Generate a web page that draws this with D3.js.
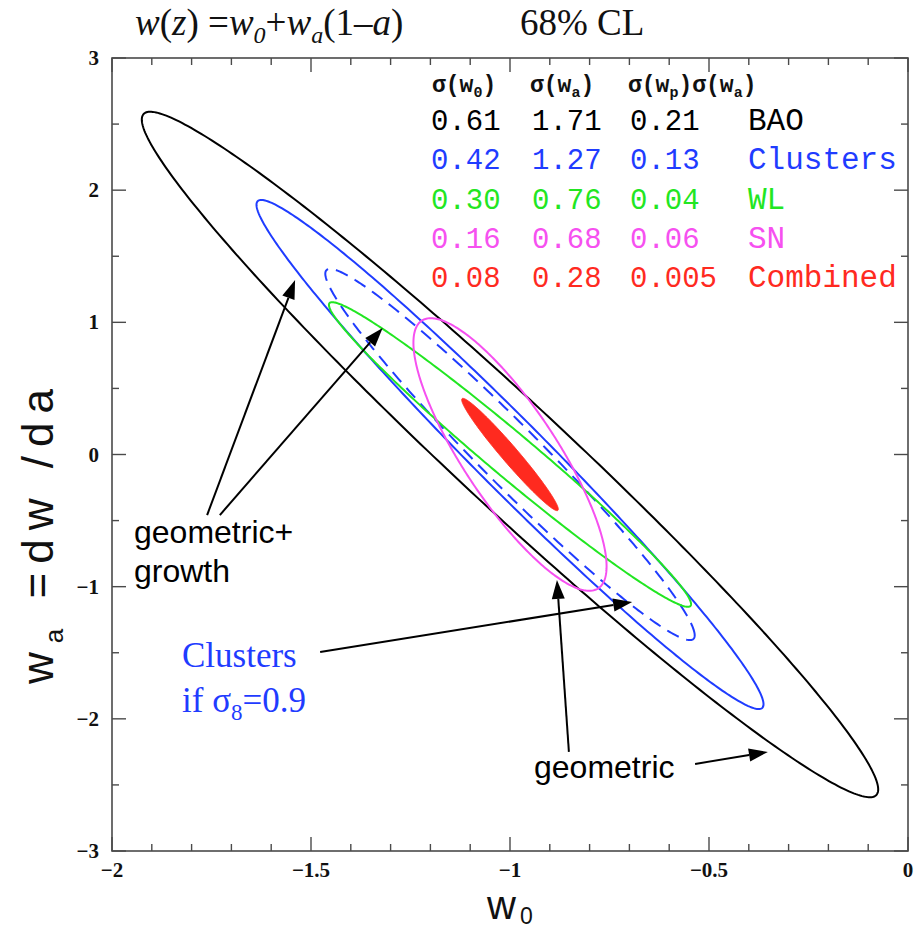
<!DOCTYPE html>
<html><head><meta charset="utf-8">
<script src="https://cdn.jsdelivr.net/npm/d3@7"></script>
<style>body{margin:0;background:#fff} svg{display:block}</style>
</head><body>
<svg id="c" width="914" height="931"></svg>
<script>
// ---- data ----
const probes = ["BAO", "Clusters", "WL", "SN", "Combined"];
const sigmaW0 = [0.61, 0.42, 0.30, 0.16, 0.08];
const sigmaWa = [1.71, 1.27, 0.76, 0.68, 0.28];
const sigmaWpWa = [0.21, 0.13, 0.04, 0.06, 0.005];
const sigmaW0Text = ["0.61", "0.42", "0.30", "0.16", "0.08"];
const sigmaWaText = ["1.71", "1.27", "0.76", "0.68", "0.28"];
const sigmaWpWaText = ["0.21", "0.13", "0.04", "0.06", "0.005"];
const rhoW0Wa = [-0.977, -0.981, -0.982, -0.82, -0.975];
const probeColors = ["#000000", "#1f3cff", "#22e622", "#f650f0", "#ff2a1f"];
const fiducial = [-1, 0];
// dashed contour: clusters if sigma8 = 0.9
const clusters09 = { sigmaW0: 0.306, sigmaWa: 0.926, rho: -0.974 };
const deltaChi2 = 2.30; // 68% CL, 2 parameters

const xDomain = [-2, 0];
const yDomain = [-3, 3];
const xMajor = [-2, -1.5, -1, -0.5, 0];
const xMajorLabels = ["\u22122", "\u22121.5", "\u22121", "\u22120.5", "0"];
const xMinor = [-1.9, -1.8, -1.7, -1.6, -1.4, -1.3, -1.2, -1.1, -0.9, -0.8, -0.7, -0.6, -0.4, -0.3, -0.2, -0.1];
const yMajor = [-3, -2, -1, 0, 1, 2, 3];
const yMajorLabels = ["\u22123", "\u22122", "\u22121", "0", "1", "2", "3"];
const yMinor = [-2.5, -1.5, -0.5, 0.5, 1.5, 2.5];

// annotation arrows [tail w0, tail wa, tip w0, tip wa]
const arrows = [
  [-1.761, -0.458, -1.540, 1.320],
  [-1.729, -0.458, -1.320, 0.957],
  [-1.477, -1.494, -0.693, -1.116],
  [-0.852, -2.250, -0.882, -0.949],
  [-0.535, -2.341, -0.352, -2.250]
];

// ---- layout ----
const svg = d3.select("#c");
const L = 112, R = 908, T = 58, B = 851;
const x = d3.scaleLinear().domain(xDomain).range([L, R]);
const y = d3.scaleLinear().domain(yDomain).range([B, T]);
const frameCol = "#4a4a4a";

svg.append("defs").append("clipPath").attr("id", "clip")
  .append("rect").attr("x", L).attr("y", T).attr("width", R - L).attr("height", B - T);

// ellipses
function ellipse(s0, sa, rho) {
  const k = Math.sqrt(deltaChi2), q = Math.sqrt(1 - rho * rho);
  return d3.range(0, 361, 1).map(t => {
    const a = t * Math.PI / 180;
    return [fiducial[0] + k * s0 * Math.cos(a),
            fiducial[1] + k * sa * (rho * Math.cos(a) + q * Math.sin(a))];
  });
}
const line = d3.line().x(d => x(d[0])).y(d => y(d[1])).curve(d3.curveLinearClosed);
const g = svg.append("g").attr("clip-path", "url(#clip)");

[0, 1, 2, 3].forEach(i => {
  if (i === 2) {
    g.append("path").attr("d", line(ellipse(clusters09.sigmaW0, clusters09.sigmaWa, clusters09.rho)))
      .attr("fill", "none").attr("stroke", probeColors[1]).attr("stroke-width", 2)
      .attr("stroke-dasharray", "13,8");
  }
  g.append("path").attr("d", line(ellipse(sigmaW0[i], sigmaWa[i], rhoW0Wa[i])))
    .attr("fill", "none").attr("stroke", probeColors[i]).attr("stroke-width", 2);
});
g.append("path").attr("d", line(ellipse(sigmaW0[4], sigmaWa[4], rhoW0Wa[4])))
  .attr("fill", probeColors[4]).attr("stroke", probeColors[4]).attr("stroke-width", 1);

// frame and ticks
svg.append("rect").attr("x", L).attr("y", T).attr("width", R - L).attr("height", B - T)
  .attr("fill", "none").attr("stroke", frameCol).attr("stroke-width", 1.6);
const tk = svg.append("g").attr("stroke", frameCol).attr("stroke-width", 1.4);
[[xMajor, 14], [xMinor, 7]].forEach(([arr, len]) => {
  arr.forEach(v => {
    tk.append("line").attr("x1", x(v)).attr("x2", x(v)).attr("y1", B).attr("y2", B - len);
    tk.append("line").attr("x1", x(v)).attr("x2", x(v)).attr("y1", T).attr("y2", T + len);
  });
});
[[yMajor, 14], [yMinor, 7]].forEach(([arr, len]) => {
  arr.forEach(v => {
    tk.append("line").attr("y1", y(v)).attr("y2", y(v)).attr("x1", L).attr("x2", L + len);
    tk.append("line").attr("y1", y(v)).attr("y2", y(v)).attr("x1", R).attr("x2", R - len);
  });
});

const tickFont = "'Liberation Serif', 'DejaVu Serif', serif";
xMajor.forEach((v, i) => {
  svg.append("text").attr("x", x(v)).attr("y", 877).attr("text-anchor", "middle")
    .attr("font-family", tickFont).attr("font-weight", "bold").attr("font-size", 21)
    .attr("fill", "#111").text(xMajorLabels[i]);
});
yMajor.forEach((v, i) => {
  svg.append("text").attr("x", 99).attr("y", y(v) + 7).attr("text-anchor", "end")
    .attr("font-family", tickFont).attr("font-weight", "bold").attr("font-size", 21)
    .attr("fill", "#111").text(yMajorLabels[i]);
});

// axis labels
const xl = svg.append("text").attr("x", 487).attr("y", 919)
  .attr("font-family", "'Liberation Sans', Arial, sans-serif").attr("font-size", 40).attr("fill", "#111");
xl.append("tspan").text("w");
xl.append("tspan").attr("dy", 5).attr("font-size", 23).attr("dx", 4).text("0");

const yl = svg.append("text").attr("transform", "translate(53,532) rotate(-90)")
  .attr("text-anchor", "middle")
  .attr("font-family", "'Liberation Sans', Arial, sans-serif").attr("font-size", 44)
  .attr("letter-spacing", 9).attr("fill", "#111");
yl.append("tspan").text("w");
yl.append("tspan").attr("dy", 10).attr("font-size", 26).text("a");
yl.append("tspan").attr("dy", -10).text(" =dw /da");

// title
const serif = "'Liberation Serif', 'Times New Roman', serif";
const tt = svg.append("text").attr("x", 135).attr("y", 35).attr("font-family", serif)
  .attr("font-size", 37).attr("fill", "#111");
tt.append("tspan").attr("font-style", "italic").text("w");
tt.append("tspan").text("(");
tt.append("tspan").attr("font-style", "italic").text("z");
tt.append("tspan").text(") =");
tt.append("tspan").attr("font-style", "italic").text("w");
tt.append("tspan").attr("font-style", "italic").attr("font-size", 24).attr("dy", 8).text("0");
tt.append("tspan").attr("dy", -8).text("+");
tt.append("tspan").attr("font-style", "italic").text("w");
tt.append("tspan").attr("font-style", "italic").attr("font-size", 24).attr("dy", 8).text("a");
tt.append("tspan").attr("dy", -8).text("(1\u2013");
tt.append("tspan").attr("font-style", "italic").text("a");
tt.append("tspan").text(")");
svg.append("text").attr("x", 520).attr("y", 35).attr("font-family", serif)
  .attr("font-size", 37).attr("fill", "#111").text("68% CL");

// table header
const mono = "'Liberation Mono', 'DejaVu Sans Mono', monospace";
function sigmaHead(xp, sub, sub2) {
  const t = svg.append("text").attr("x", xp).attr("y", 92).attr("font-family", mono)
    .attr("font-size", 23).attr("font-weight", "bold").attr("fill", "#111");
  t.append("tspan").text("\u03c3(w");
  t.append("tspan").attr("font-size", 15).attr("dy", 5).text(sub);
  t.append("tspan").attr("dy", -5).text(")");
  if (sub2) {
    t.append("tspan").text("\u03c3(w");
    t.append("tspan").attr("font-size", 15).attr("dy", 5).text(sub2);
    t.append("tspan").attr("dy", -5).text(")");
  }
}
sigmaHead(432, "0");
sigmaHead(530, "a");
sigmaHead(628, "p", "a");

// table rows
const colX = [431, 532, 630, 748];
probes.forEach((p, i) => {
  const yy = 130 + i * 39.3;
  [sigmaW0Text[i], sigmaWaText[i], sigmaWpWaText[i], p].forEach((s, j) => {
    svg.append("text").attr("x", colX[j]).attr("y", yy).attr("font-family", mono)
      .attr("font-size", j === 3 ? 31 : 29).attr("fill", probeColors[i]).text(s);
  });
});

// arrows
const ag = svg.append("g");
arrows.forEach(a => {
  const x1 = x(a[0]), y1 = y(a[1]), x2 = x(a[2]), y2 = y(a[3]);
  const ang = Math.atan2(y2 - y1, x2 - x1);
  const hl = 19, hw = 6.5;
  const bx = x2 - hl * Math.cos(ang), by = y2 - hl * Math.sin(ang);
  ag.append("line").attr("x1", x1).attr("y1", y1).attr("x2", bx).attr("y2", by)
    .attr("stroke", "#000").attr("stroke-width", 2);
  const px = -Math.sin(ang) * hw, py = Math.cos(ang) * hw;
  ag.append("path").attr("d", `M${x2},${y2}L${bx + px},${by + py}L${bx - px},${by - py}Z`).attr("fill", "#000");
});

// annotation text
const sans = "'Liberation Sans', Arial, sans-serif";
svg.append("text").attr("x", 134).attr("y", 543).attr("font-family", sans).attr("font-size", 32).attr("fill", "#000").text("geometric+");
svg.append("text").attr("x", 134).attr("y", 582).attr("font-family", sans).attr("font-size", 32).attr("fill", "#000").text("growth");
svg.append("text").attr("x", 534).attr("y", 778).attr("font-family", sans).attr("font-size", 32).attr("fill", "#000").text("geometric");
svg.append("text").attr("x", 182).attr("y", 667).attr("font-family", serif).attr("font-size", 35).attr("fill", probeColors[1]).text("Clusters");
const c9 = svg.append("text").attr("x", 182).attr("y", 712).attr("font-family", serif).attr("font-size", 35).attr("fill", probeColors[1]);
c9.append("tspan").text("if \u03c3");
c9.append("tspan").attr("font-size", 23).attr("dy", 8).text("8");
c9.append("tspan").attr("dy", -8).text("=0.9");
</script>
</body></html>
